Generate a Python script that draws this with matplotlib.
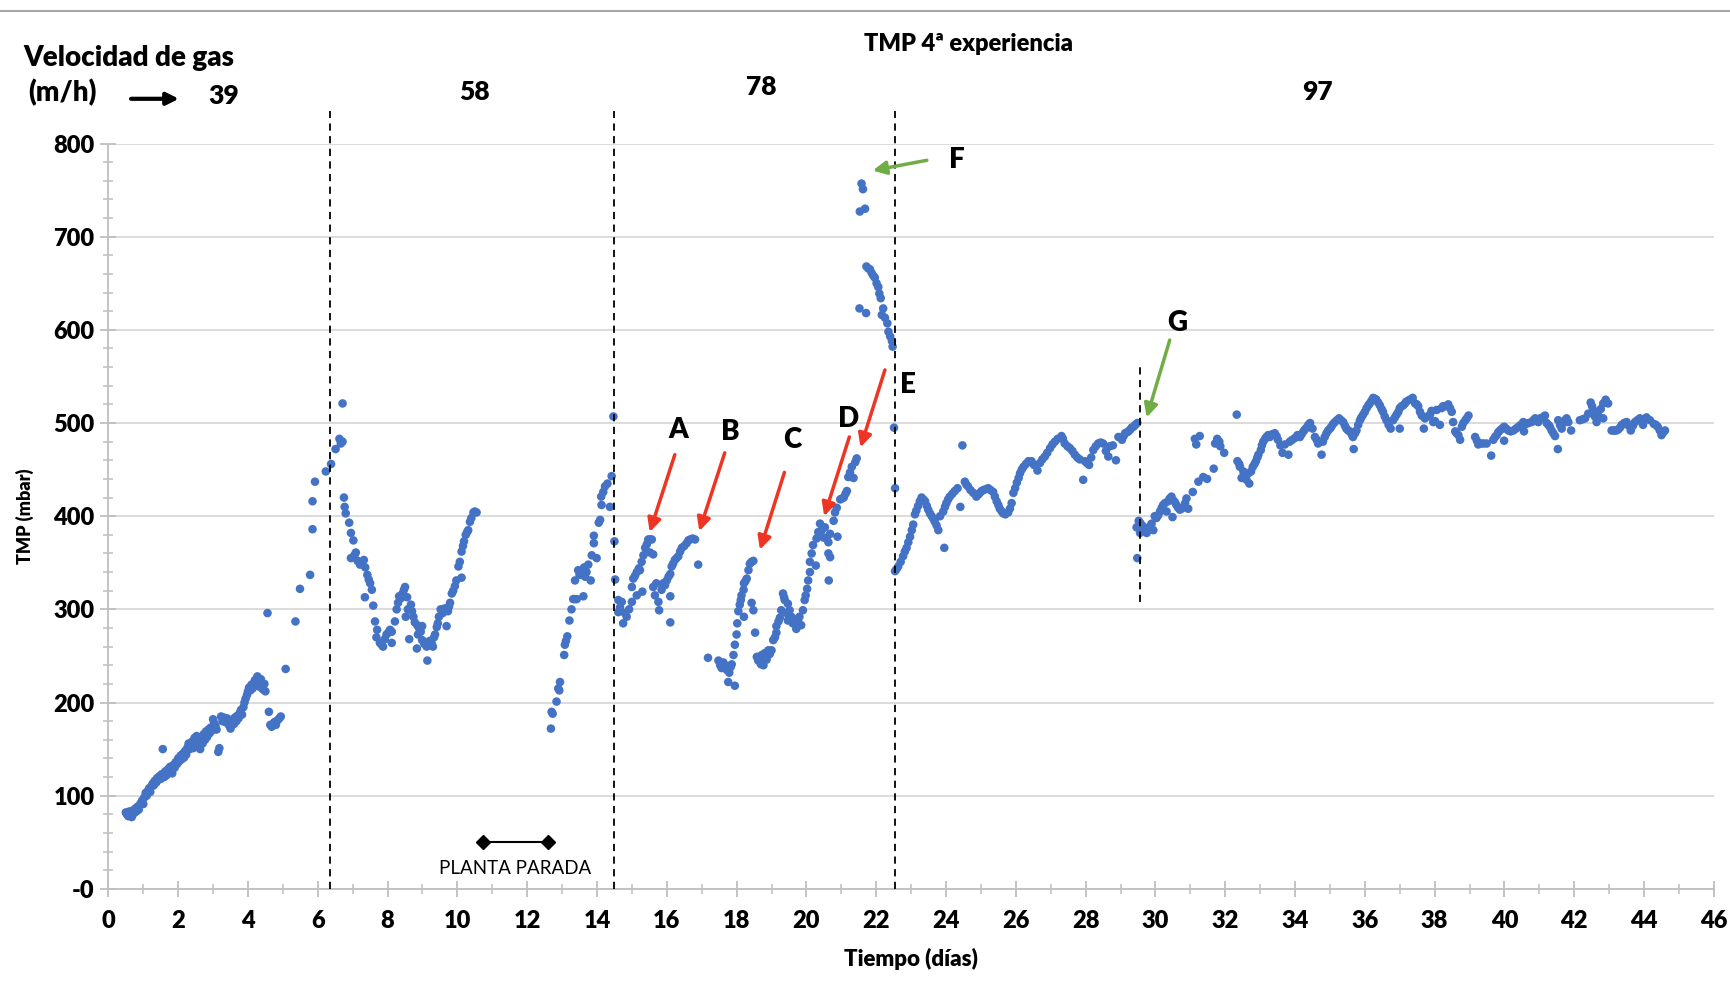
import matplotlib
matplotlib.use("Agg")
import matplotlib.pyplot as plt
from matplotlib.ticker import MultipleLocator
from matplotlib.lines import Line2D

plt.rcParams['font.family'] = ['Lato', 'DejaVu Sans']

# ---------------- data (día, TMP mbar) ----------------
puntos_39 = [
    (0.50, 82), (0.53, 80), (0.57, 78), (0.60, 83), (0.63, 80), (0.67, 77), (0.70, 84), (0.73, 81),
    (0.77, 86), (0.80, 83), (0.83, 88), (0.87, 85), (0.90, 90), (0.93, 92), (0.97, 95), (1.00, 91),
    (1.03, 98), (1.07, 103), (1.10, 100), (1.13, 105), (1.17, 108), (1.20, 104), (1.23, 110), (1.27, 113),
    (1.30, 111), (1.33, 116), (1.37, 114), (1.40, 119), (1.43, 117), (1.47, 121), (1.50, 118), (1.53, 123),
    (1.56, 150), (1.60, 120), (1.63, 126), (1.67, 122), (1.70, 128), (1.73, 125), (1.77, 131), (1.80, 127),
    (1.83, 124), (1.87, 133), (1.90, 130), (1.93, 136), (1.97, 134), (2.00, 140), (2.03, 137), (2.07, 143),
    (2.10, 139), (2.13, 145), (2.17, 141), (2.20, 148), (2.23, 144), (2.27, 152), (2.30, 156), (2.33, 150),
    (2.37, 154), (2.40, 158), (2.43, 151), (2.47, 162), (2.50, 157), (2.53, 164), (2.57, 153), (2.60, 159),
    (2.63, 150), (2.67, 161), (2.70, 156), (2.73, 166), (2.77, 160), (2.80, 169), (2.83, 163), (2.87, 171),
    (2.90, 167), (2.93, 173), (2.97, 170), (3.00, 182), (3.03, 178), (3.07, 175), (3.10, 171), (3.15, 147),
    (3.18, 151), (3.23, 185), (3.27, 180), (3.30, 184), (3.35, 179), (3.40, 183), (3.45, 176), (3.50, 172),
    (3.53, 178), (3.57, 182), (3.60, 177), (3.63, 184), (3.67, 180), (3.70, 186), (3.73, 183), (3.77, 189),
    (3.80, 192), (3.83, 187), (3.87, 195), (3.90, 200), (3.93, 204), (3.97, 208), (4.00, 212), (4.03, 216),
    (4.07, 213), (4.10, 219), (4.13, 215), (4.17, 221), (4.20, 224), (4.23, 218), (4.27, 228), (4.30, 222),
    (4.33, 217), (4.37, 225), (4.40, 219), (4.43, 214), (4.47, 220), (4.50, 212), (4.56, 296), (4.60, 190),
    (4.64, 176), (4.68, 174), (4.72, 177), (4.76, 179), (4.80, 176), (4.85, 181), (4.90, 183), (4.94, 185),
    (5.08, 236), (5.36, 287), (5.49, 322), (5.78, 337), (5.85, 386), (5.85, 416), (5.92, 437), (6.23, 448),
    (6.38, 456),
]

puntos_58 = [
    (6.51, 472), (6.62, 483), (6.66, 478), (6.71, 480), (6.71, 521), (6.75, 420), (6.77, 410), (6.80, 403),
    (6.90, 393), (6.95, 382), (7.02, 374), (6.95, 355), (7.05, 358), (7.09, 361), (7.14, 352), (7.21, 348),
    (7.26, 350), (7.32, 353), (7.36, 345), (7.42, 337), (7.46, 332), (7.50, 328), (7.55, 321), (7.35, 313),
    (7.59, 304), (7.64, 287), (7.70, 278), (7.68, 270), (7.78, 264), (7.83, 262), (7.87, 260), (7.92, 268),
    (7.97, 273), (8.02, 275), (8.07, 278), (8.12, 276), (8.12, 264), (8.21, 287), (8.26, 300), (8.30, 307),
    (8.33, 314), (8.38, 312), (8.43, 317), (8.47, 321), (8.50, 324), (8.56, 313), (8.52, 292), (8.58, 300),
    (8.62, 268), (8.67, 305), (8.70, 298), (8.74, 292), (8.78, 286), (8.84, 258), (8.85, 283), (8.90, 280),
    (8.87, 273), (8.95, 276), (8.99, 282), (8.99, 267), (9.05, 263), (9.12, 260), (9.14, 245), (9.20, 266),
    (9.26, 264), (9.30, 260), (9.33, 270), (9.36, 273), (9.41, 281), (9.44, 285), (9.47, 292), (9.52, 300),
    (9.58, 296), (9.64, 301), (9.69, 282), (9.73, 298), (9.76, 303), (9.79, 307), (9.84, 317), (9.88, 320),
    (9.93, 325), (9.97, 331), (10.03, 346), (10.07, 351), (10.12, 334), (10.12, 362), (10.16, 368),
    (10.19, 373), (10.24, 380), (10.28, 383), (10.31, 385), (10.36, 394), (10.40, 398), (10.46, 404),
    (10.50, 405), (10.55, 404),
    (12.68, 172), (12.70, 190), (12.73, 188), (12.84, 201), (12.89, 215), (12.94, 222), (12.92, 213),
    (13.06, 251), (13.08, 262), (13.11, 266), (13.15, 271), (13.21, 288), (13.27, 300), (13.32, 311),
    (13.37, 311), (13.42, 311), (13.37, 331), (13.46, 342), (13.50, 337), (13.56, 339), (13.61, 314),
    (13.63, 345), (13.66, 335), (13.70, 340), (13.75, 348), (13.82, 331), (13.85, 358), (13.91, 371),
    (13.91, 379), (13.99, 355), (14.05, 393), (14.09, 396), (14.13, 412), (14.12, 421), (14.18, 426),
    (14.23, 432), (14.30, 435), (14.37, 410), (14.42, 443), (14.47, 507),
]

puntos_78 = [
    (14.50, 373), (14.52, 332), (14.61, 310), (14.66, 302), (14.71, 308), (14.61, 297), (14.80, 296),
    (14.75, 285), (14.85, 292), (14.92, 300), (15.00, 308), (15.00, 324), (15.04, 333), (15.09, 336),
    (15.14, 340), (15.14, 315), (15.20, 344), (15.23, 342), (15.30, 319), (15.28, 351), (15.33, 358),
    (15.38, 366), (15.43, 370), (15.47, 375), (15.52, 375), (15.57, 375), (15.52, 361), (15.61, 359),
    (15.61, 324), (15.70, 328), (15.66, 315), (15.76, 308), (15.78, 299), (15.85, 321), (15.90, 328),
    (15.95, 326), (16.00, 331), (16.05, 335), (16.10, 338), (16.10, 314), (16.10, 286), (16.14, 346),
    (16.18, 349), (16.23, 353), (16.28, 355), (16.33, 357), (16.38, 362), (16.43, 366), (16.50, 368),
    (16.57, 371), (16.62, 374), (16.67, 375), (16.74, 376), (16.81, 375), (16.90, 348),
    (17.18, 248), (17.48, 245), (17.53, 240), (17.57, 237), (17.62, 243), (17.67, 240), (17.72, 235),
    (17.76, 222), (17.79, 232), (17.83, 238), (17.86, 241), (17.91, 251), (17.95, 218), (17.95, 262),
    (18.00, 273), (18.02, 285), (18.05, 298), (18.09, 305), (18.12, 310), (18.14, 315), (18.20, 321),
    (18.21, 328), (18.21, 292), (18.25, 330), (18.29, 333), (18.34, 342), (18.38, 349), (18.43, 351),
    (18.48, 352), (18.43, 307), (18.48, 299), (18.53, 275),
    (18.58, 249), (18.62, 245), (18.67, 244), (18.70, 241), (18.72, 251), (18.75, 247), (18.77, 240),
    (18.81, 253), (18.86, 246), (18.91, 256), (18.95, 252), (19.00, 256), (19.05, 267), (19.10, 270),
    (19.14, 275), (19.14, 282), (19.20, 287), (19.24, 291), (19.28, 299), (19.33, 317), (19.36, 313),
    (19.38, 310), (19.43, 296), (19.47, 306), (19.47, 288), (19.52, 299), (19.57, 292), (19.61, 285),
    (19.66, 289), (19.71, 279), (19.76, 288), (19.80, 292), (19.85, 283), (19.90, 299), (19.95, 310),
    (19.98, 315), (20.02, 322), (20.05, 331), (20.10, 340), (20.10, 351), (20.15, 360), (20.19, 369),
    (20.27, 347), (20.29, 376), (20.34, 383), (20.39, 392), (20.44, 385), (20.49, 377), (20.53, 388),
    (20.58, 377), (20.63, 372), (20.68, 381), (20.63, 360), (20.68, 356), (20.64, 331), (20.78, 395),
    (20.82, 404), (20.87, 409), (20.89, 378), (20.97, 418), (21.02, 419), (21.07, 420), (21.12, 424),
    (21.16, 427), (21.20, 442), (21.25, 447), (21.30, 453), (21.35, 441), (21.40, 458), (21.44, 462),
    (21.52, 623), (21.53, 727), (21.58, 757), (21.62, 751), (21.68, 730), (21.71, 618), (21.72, 668),
    (21.77, 666), (21.82, 665), (21.87, 661), (21.92, 658), (21.96, 656), (22.01, 650), (22.06, 646),
    (22.09, 639), (22.13, 634), (22.16, 616), (22.20, 623), (22.25, 613), (22.32, 607), (22.35, 598),
    (22.40, 593), (22.45, 588), (22.47, 582),
]

puntos_97 = [
    (22.51, 495), (22.54, 430), (22.54, 341), (22.58, 343), (22.63, 346), (22.70, 351), (22.77, 357),
    (22.82, 362), (22.87, 366), (22.92, 372), (22.97, 378), (23.02, 385), (23.06, 391), (23.11, 402),
    (23.15, 406), (23.20, 411), (23.25, 416), (23.30, 420), (23.35, 418), (23.40, 416), (23.45, 411),
    (23.49, 407), (23.54, 403), (23.59, 400), (23.64, 397), (23.68, 394), (23.73, 390), (23.78, 385),
    (23.95, 366), (23.83, 400), (23.92, 405), (23.97, 410), (24.01, 414), (24.06, 418), (24.11, 421),
    (24.18, 424), (24.25, 427), (24.33, 430), (24.41, 410), (24.47, 476), (24.54, 437), (24.58, 434),
    (24.63, 432), (24.70, 428), (24.78, 425), (24.87, 421), (24.92, 423), (24.97, 425), (25.02, 427),
    (25.07, 428), (25.14, 429), (25.21, 430), (25.28, 428), (25.35, 426), (25.40, 421), (25.45, 416),
    (25.50, 412), (25.54, 408), (25.60, 405), (25.64, 403), (25.70, 402), (25.78, 404), (25.83, 408),
    (25.88, 414), (25.93, 425), (25.98, 430), (26.03, 436), (26.08, 441), (26.12, 446), (26.17, 450),
    (26.22, 453), (26.29, 456), (26.36, 459), (26.45, 459), (26.52, 455), (26.62, 449), (26.69, 457),
    (26.76, 461), (26.83, 464), (26.90, 468), (26.98, 473), (27.05, 477), (27.12, 480), (27.20, 483),
    (27.31, 486), (27.35, 483), (27.40, 478), (27.48, 475), (27.55, 473), (27.62, 470), (27.69, 466),
    (27.76, 463), (27.83, 461), (27.93, 439), (27.98, 459), (28.04, 457), (28.10, 455), (28.16, 463),
    (28.22, 471), (28.29, 475), (28.36, 478), (28.43, 479), (28.50, 478), (28.58, 470), (28.65, 464),
    (28.69, 475), (28.78, 476), (28.87, 460), (28.94, 485), (29.04, 482), (29.09, 486), (29.13, 489),
    (29.18, 490), (29.23, 491), (29.28, 493), (29.32, 495), (29.37, 496), (29.42, 498), (29.48, 500),
    (29.48, 355), (29.46, 388), (29.52, 395), (29.56, 393), (29.56, 382), (29.62, 390), (29.70, 387),
    (29.75, 382), (29.80, 386), (29.84, 389), (29.89, 392), (29.94, 385), (29.98, 400), (30.03, 398),
    (30.08, 401), (30.13, 405), (30.18, 409), (30.22, 412), (30.27, 414), (30.32, 405), (30.36, 416),
    (30.41, 419), (30.46, 421), (30.51, 417), (30.49, 399), (30.56, 415), (30.60, 412), (30.65, 409),
    (30.70, 407), (30.75, 408), (30.81, 410), (30.85, 414), (30.89, 419), (30.94, 408), (31.07, 426),
    (31.13, 483), (31.17, 477), (31.23, 437), (31.27, 486), (31.37, 442), (31.48, 440), (31.67, 451),
    (31.71, 478), (31.77, 483), (31.83, 480), (31.86, 475), (31.97, 468), (32.33, 509), (32.35, 459),
    (32.40, 456), (32.42, 453), (32.47, 441), (32.52, 448), (32.57, 444), (32.61, 439), (32.66, 446),
    (32.69, 435), (32.74, 448), (32.79, 453), (32.84, 456), (32.88, 459), (32.92, 463), (32.95, 466),
    (33.02, 471), (33.05, 476), (33.09, 480), (33.14, 483), (33.18, 485), (33.23, 487), (33.28, 485),
    (33.35, 488), (33.42, 489), (33.47, 486), (33.51, 482), (33.58, 476), (33.64, 468), (33.71, 477),
    (33.81, 466), (33.85, 480), (33.92, 482), (34.00, 484), (34.07, 487), (34.14, 485), (34.19, 488),
    (34.24, 491), (34.28, 493), (34.33, 495), (34.38, 498), (34.43, 500), (34.50, 494), (34.57, 485),
    (34.62, 482), (34.66, 478), (34.76, 466), (34.80, 480), (34.85, 485), (34.90, 489), (34.95, 492),
    (35.00, 494), (35.04, 496), (35.09, 499), (35.14, 501), (35.20, 503), (35.26, 505), (35.32, 503),
    (35.38, 501), (35.43, 497), (35.47, 494), (35.52, 492), (35.57, 491), (35.62, 488), (35.66, 485),
    (35.68, 472), (35.72, 489), (35.76, 492), (35.81, 498), (35.86, 503), (35.90, 506), (35.95, 509),
    (36.00, 512), (36.05, 516), (36.10, 519), (36.14, 521), (36.19, 524), (36.24, 527), (36.29, 526),
    (36.33, 525), (36.38, 522), (36.43, 519), (36.48, 515), (36.52, 512), (36.57, 507), (36.62, 503),
    (36.68, 498), (36.74, 494), (36.81, 503), (36.86, 506), (36.91, 509), (36.96, 512), (37.00, 516),
    (37.00, 494), (37.05, 518), (37.10, 519), (37.15, 521), (37.19, 523), (37.28, 525), (37.37, 527),
    (37.44, 521), (37.49, 520), (37.53, 518), (37.58, 512), (37.63, 508), (37.69, 494), (37.72, 505),
    (37.80, 507), (37.87, 509), (37.91, 513), (37.96, 501), (38.01, 502), (38.06, 514), (38.15, 498),
    (38.20, 516), (38.24, 518), (38.30, 518), (38.39, 520), (38.44, 516), (38.49, 512), (38.53, 501),
    (38.59, 491), (38.63, 489), (38.68, 487), (38.73, 482), (38.78, 496), (38.82, 500), (38.88, 503),
    (38.92, 505), (38.97, 508), (39.16, 485), (39.21, 481), (39.25, 477), (39.33, 478), (39.40, 478),
    (39.49, 478), (39.62, 465), (39.68, 482), (39.73, 485), (39.78, 487), (39.82, 490), (39.87, 492),
    (39.93, 494), (39.99, 496), (39.99, 481), (40.05, 494), (40.11, 492), (40.18, 491), (40.26, 492),
    (40.33, 494), (40.40, 496), (40.47, 498), (40.54, 501), (40.56, 491), (40.62, 499), (40.69, 500),
    (40.78, 501), (40.83, 503), (40.88, 505), (40.97, 501), (41.02, 505), (41.09, 506), (41.16, 508),
    (41.21, 500), (41.26, 498), (41.30, 496), (41.35, 492), (41.40, 489), (41.45, 486), (41.53, 472),
    (41.54, 503), (41.59, 498), (41.64, 494), (41.69, 500), (41.74, 503), (41.78, 505), (41.83, 501),
    (41.91, 492), (42.16, 503), (42.24, 504), (42.31, 505), (42.40, 510), (42.47, 522), (42.51, 518),
    (42.54, 514), (42.59, 507), (42.64, 501), (42.69, 508), (42.76, 515), (42.83, 521), (42.83, 505),
    (42.90, 525), (42.97, 521), (43.07, 492), (43.12, 492), (43.16, 492), (43.21, 492), (43.26, 493),
    (43.31, 495), (43.36, 498), (43.43, 500), (43.50, 501), (43.56, 497), (43.62, 492), (43.68, 497),
    (43.74, 501), (43.81, 503), (43.88, 505), (43.97, 498), (44.02, 503), (44.07, 506), (44.17, 503),
    (44.28, 499), (44.34, 498), (44.39, 496), (44.45, 492), (44.50, 487), (44.55, 490), (44.60, 492),
]

velocidades = ["39", "58", "78", "97"]
velocidad_x = [3.3, 10.5, 18.7, 34.65]
velocidad_y = [851, 855, 861, 855]
cambios_velocidad = [6.35, 14.5, 22.53]
linea_g = 29.56

letras = ["A", "B", "C", "D", "E", "F", "G"]
letras_pos = [(16.33, 492), (17.82, 490), (19.59, 482), (21.2, 504), (22.91, 541), (24.3, 782), (30.63, 607)]
flechas_cola = [(16.23, 466), (17.66, 468), (19.37, 447), (21.23, 485), (22.25, 557), (23.45, 782), (30.41, 589)]
flechas_punta = [(15.51, 383), (16.93, 384), (18.67, 364), (20.51, 400), (21.55, 474), (21.9, 771), (29.75, 506)]
flechas_color = ["#EE3524"] * 5 + ["#70AD47"] * 2

parada_inicio, parada_fin, parada_nivel = 10.73, 12.59, 50

# ---------------- figure ----------------
fig = plt.figure(figsize=(17.31, 9.83), dpi=100)
ax = fig.add_axes([0.0626, 0.0958, 0.9275, 0.7582])

azul = "#4472C4"
for serie in (puntos_39, puntos_58, puntos_78, puntos_97):
    xs = [p[0] for p in serie]
    ys = [p[1] for p in serie]
    ax.scatter(xs, ys, s=38, color=azul, edgecolors='none', zorder=3)

ax.set_xlim(0, 46)
ax.set_ylim(0, 800)
ax.xaxis.set_major_locator(MultipleLocator(2))
ax.xaxis.set_minor_locator(MultipleLocator(1))
ax.yaxis.set_major_locator(MultipleLocator(100))
ax.yaxis.set_minor_locator(MultipleLocator(20))
ax.set_yticks(range(0, 801, 100))
ax.set_yticklabels(["-0"] + [str(v) for v in range(100, 801, 100)])

ax.grid(axis='y', which='major', color='#D9D9D9', linewidth=1.3, zorder=0)
ax.set_axisbelow(True)
for s in ('top', 'right'):
    ax.spines[s].set_visible(False)
for s in ('left', 'bottom'):
    ax.spines[s].set_color('#BFBFBF')
    ax.spines[s].set_linewidth(1.3)

ax.tick_params(axis='both', which='major', direction='inout', length=12, width=1.3, color='#BFBFBF',
               labelsize=17, pad=4)
ax.tick_params(axis='both', which='minor', direction='inout', length=7, width=1.1, color='#BFBFBF')
for lab in ax.get_xticklabels() + ax.get_yticklabels():
    lab.set_fontweight('heavy')
ax.tick_params(axis='x', pad=9)

ax.set_xlabel("Tiempo (días)", fontsize=16, fontweight='heavy', labelpad=12)
ax.set_ylabel("TMP (mbar)", fontsize=13, fontweight='heavy', labelpad=14)

# dashed separators
for xv in cambios_velocidad:
    ax.plot([xv, xv], [0, 835], color='black', linestyle=(0, (4, 3)), linewidth=1.3, clip_on=False, zorder=4)
ax.plot([linea_g, linea_g], [308, 560], color='black', linestyle=(0, (4, 3)), linewidth=1.3, zorder=4)

# speeds
for t, xv, yv in zip(velocidades, velocidad_x, velocidad_y):
    ax.text(xv, yv, t, fontsize=19, fontweight='heavy', ha='center', va='center', clip_on=False)

fig.text(0.0135, 0.941, "Velocidad de gas", fontsize=20, fontweight='heavy', ha='left', va='center')
fig.text(0.0165, 0.906, "(m/h)", fontsize=20, fontweight='heavy', ha='left', va='center')
ax.annotate('', xy=(2.1, 848), xytext=(0.57, 848), annotation_clip=False,
            arrowprops=dict(arrowstyle='-|>', color='black', lw=3, mutation_scale=18))

fig.text(0.5595, 0.955, "TMP 4ª experiencia", fontsize=17, fontweight='heavy', ha='center', va='center')

# letters and arrows
for t, pos, cola, punta, c in zip(letras, letras_pos, flechas_cola, flechas_punta, flechas_color):
    ax.text(pos[0], pos[1], t, fontsize=20, fontweight='heavy', ha='center', va='center', zorder=5)
    ax.annotate('', xy=punta, xytext=cola, annotation_clip=False,
                arrowprops=dict(arrowstyle='-|>', color=c, lw=2.5, mutation_scale=20,
                                shrinkA=0, shrinkB=0), zorder=5)

# planta parada
ax.plot([parada_inicio, parada_fin], [parada_nivel, parada_nivel], color='black', linewidth=1.5,
        marker='D', markersize=7, zorder=5)
ax.text((parada_inicio + parada_fin) / 2, 22, "PLANTA PARADA", fontsize=13.5, ha='center', va='center')

# top border line
fig.add_artist(Line2D([0, 1], [0.989, 0.989], transform=fig.transFigure, color='#A6A6A6', linewidth=1.5))

fig.savefig("out.png", dpi=100, facecolor='white')
